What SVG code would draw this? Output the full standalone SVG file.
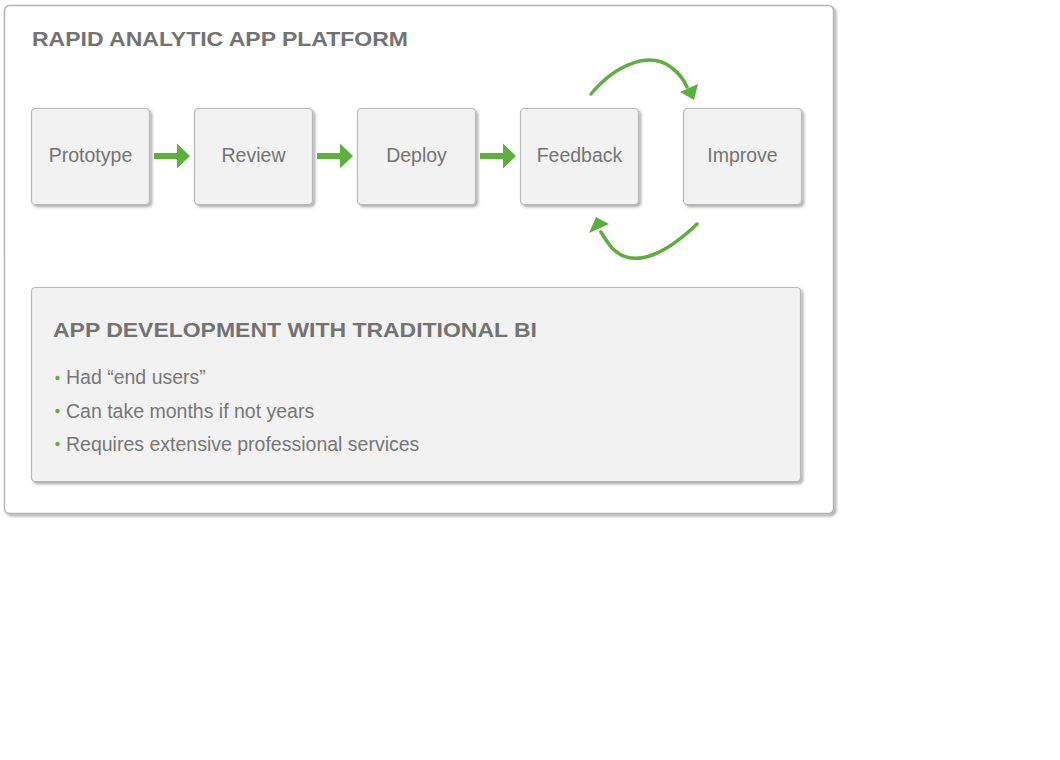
<svg xmlns="http://www.w3.org/2000/svg" width="1060" height="760" viewBox="0 0 1060 760">
<defs>
<filter id="sh" x="-10%" y="-10%" width="130%" height="130%">
<feGaussianBlur in="SourceAlpha" stdDeviation="1.5"/>
<feOffset dx="2" dy="2" result="b"/>
<feComponentTransfer><feFuncA type="linear" slope="0.35"/></feComponentTransfer>
<feMerge><feMergeNode/><feMergeNode in="SourceGraphic"/></feMerge>
</filter>
</defs>
<style>
.frame{fill:#ffffff;stroke:#b5b5b5;stroke-width:1.5}
.box{fill:#f2f2f2;stroke:#b8b8b8;stroke-width:1.2}
.lbl{font-family:"Liberation Sans",Arial,sans-serif;font-size:19.5px;fill:#747474;text-anchor:middle}
.ttl{font-family:"Liberation Sans",Arial,sans-serif;font-size:21px;font-weight:bold;fill:#737373}
.bul{font-family:"Liberation Sans",Arial,sans-serif;font-size:19.5px;fill:#777777}
.dot{fill:#5cb03c}
.arr{fill:#5cb03c}
.curve{fill:none;stroke:#5cb03c;stroke-width:3.5;stroke-linecap:round}
</style>
<rect width="1060" height="760" fill="#ffffff"/>
<g id="platform">
<rect class="frame" x="4.5" y="5.5" width="829" height="508" rx="5" filter="url(#sh)"/>
<text class="ttl" x="32" y="46" textLength="376" lengthAdjust="spacingAndGlyphs">RAPID ANALYTIC APP PLATFORM</text>
</g>
<g id="prototype">
<rect class="box" x="31.5" y="108.5" width="118" height="96" rx="4" filter="url(#sh)"/>
<text class="lbl" x="90.5" y="162">Prototype</text>
</g>
<g id="review">
<rect class="box" x="194.5" y="108.5" width="118" height="96" rx="4" filter="url(#sh)"/>
<text class="lbl" x="253.5" y="162">Review</text>
</g>
<g id="deploy">
<rect class="box" x="357.5" y="108.5" width="118" height="96" rx="4" filter="url(#sh)"/>
<text class="lbl" x="416.5" y="162">Deploy</text>
</g>
<g id="feedback">
<rect class="box" x="520.5" y="108.5" width="118" height="96" rx="4" filter="url(#sh)"/>
<text class="lbl" x="579.5" y="162">Feedback</text>
</g>
<g id="improve">
<rect class="box" x="683.5" y="108.5" width="118" height="96" rx="4" filter="url(#sh)"/>
<text class="lbl" x="742.5" y="162">Improve</text>
</g>
<g id="connectors">
<path class="arr" d="M154,153 H177 V143.5 L190,156 L177,168.5 V159 H154 Z"/>
<path class="arr" d="M317,153 H340 V143.5 L353,156 L340,168.5 V159 H317 Z"/>
<path class="arr" d="M480,153 H503 V143.5 L516,156 L503,168.5 V159 H480 Z"/>
<path class="curve" d="M591,94 C615,65 650,50 672,68 C680,74 684,80 687,87"/>
<path class="arr" d="M680,92 L698,84 L694,100 Z"/>
<path class="curve" d="M697,224 C670,250 635,272 612,248 C607,242 604,237 601,232"/>
<path class="arr" d="M609,224 L589,233 L596,217 Z"/>
</g>
<g id="traditional">
<rect class="box" x="31.5" y="287.5" width="769" height="194" rx="4" filter="url(#sh)"/>
<text class="ttl" x="53" y="337" textLength="484" lengthAdjust="spacingAndGlyphs">APP DEVELOPMENT WITH TRADITIONAL BI</text>
<circle class="dot" cx="57.5" cy="378" r="2.2"/>
<text class="bul" x="66" y="384">Had “end users”</text>
<circle class="dot" cx="57.5" cy="411" r="2.2"/>
<text class="bul" x="66" y="418">Can take months if not years</text>
<circle class="dot" cx="57.5" cy="444" r="2.2"/>
<text class="bul" x="66" y="451">Requires extensive professional services</text>
</g>
</svg>
